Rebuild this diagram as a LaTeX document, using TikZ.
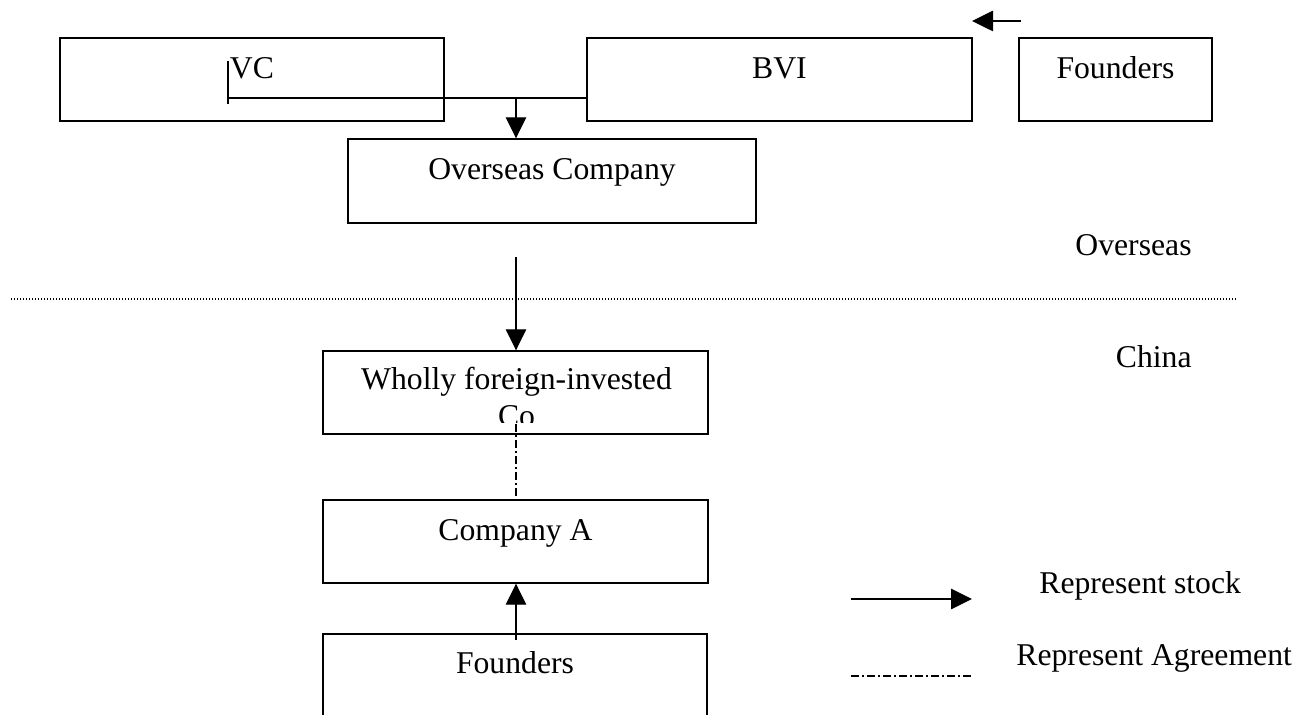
\documentclass[tikz,border=0pt]{standalone}
\usepackage{fontspec}
\setmainfont{Liberation Serif}
\usetikzlibrary{arrows.meta}
\begin{document}
\begin{tikzpicture}[x=0.5pt,y=-0.5pt,
  every node/.style={font=\fontsize{15.85}{18.2}\selectfont},
  box/.style={draw, line width=0.7pt, inner sep=0pt, text height=20.5pt, text depth=21pt},
  lbl/.style={inner sep=0pt, anchor=base},
  conn/.style={line width=0.65pt},
  stock/.style={conn, -{Triangle[length=10.5pt,width=10.2pt]}},
  agree/.style={line width=0.65pt, dash pattern=on 4pt off 1.5pt on 1pt off 1.5pt},
  border/.style={line width=0.6pt, dash pattern=on 0.6pt off 0.9pt}]
\clip (0,0) rectangle (1307,715);
\fill[white] (0,0) rectangle (1307,715);
% boxes
\node[box, minimum width=192pt] (vc) at (252,79.5) {VC};
\node[box, minimum width=192.5pt] (bvi) at (779.5,79.5) {BVI};
\node[box, minimum width=96.5pt] (fo1) at (1115.5,79.5) {Founders};
\node[box, minimum width=204pt, text depth=21.5pt] (ovs) at (552,181) {Overseas Company};
\node[box, minimum width=192.5pt, minimum height=41.5pt, text height=0pt, text depth=0pt] (wfoe) at (515.5,392.5) {};
\node[box, minimum width=192.5pt] (ca) at (515.5,541.5) {Company A};
\node[box, minimum width=192pt, text height=20pt, text depth=21.5pt] (fo2) at (515,675.5) {Founders};
% wfoe text, clipped as in the reference
\begin{scope}
  \clip (323,351) rectangle (708,423);
  \node[lbl] (wt1) at (516.5,390) {Wholly foreign-invested};
  \node[lbl] (wt2) at (516.5,427) {Co};
\end{scope}
% region labels
\node[lbl, anchor=base east] (lov) at (1192,256) {Overseas};
\node[lbl, anchor=base east] (lch) at (1192,368) {China};
\draw[border] (11,299) -- (1236,299);
% connectors
\coordinate (j) at (516,98);
\coordinate (vcx) at (228,98);
\coordinate (vct1) at (228,61);
\coordinate (vct2) at (228,104);
\draw[conn] (vct1) -- (vct2);
\draw[conn] (vcx) -- (j -| bvi.west);
\draw[stock] (j) -- (j |- ovs.north);
\coordinate (ta1) at (1021,21);
\coordinate (ta2) at (972,21);
\draw[stock] (ta1) -- (ta2);
\coordinate (od) at (516,257);
\draw[stock] (od) -- (od |- wfoe.north);
\coordinate (ag) at (516,424);
\draw[agree] (ag) -- (ag |- ca.north);
\coordinate (fu) at (516,640);
\draw[stock] (fu) -- (fu |- ca.south);
% legend
\coordinate (l1a) at (851,599);
\coordinate (l1b) at (972,599);
\draw[stock] (l1a) -- (l1b);
\node[lbl, anchor=base west] (ls) at (1039,594) {Represent stock};
\coordinate (l2a) at (851,676);
\coordinate (l2b) at (972,676);
\draw[agree] (l2a) -- (l2b);
\node[lbl, anchor=base west] (la) at (1016,666) {Represent Agreement};
\end{tikzpicture}
\end{document}
